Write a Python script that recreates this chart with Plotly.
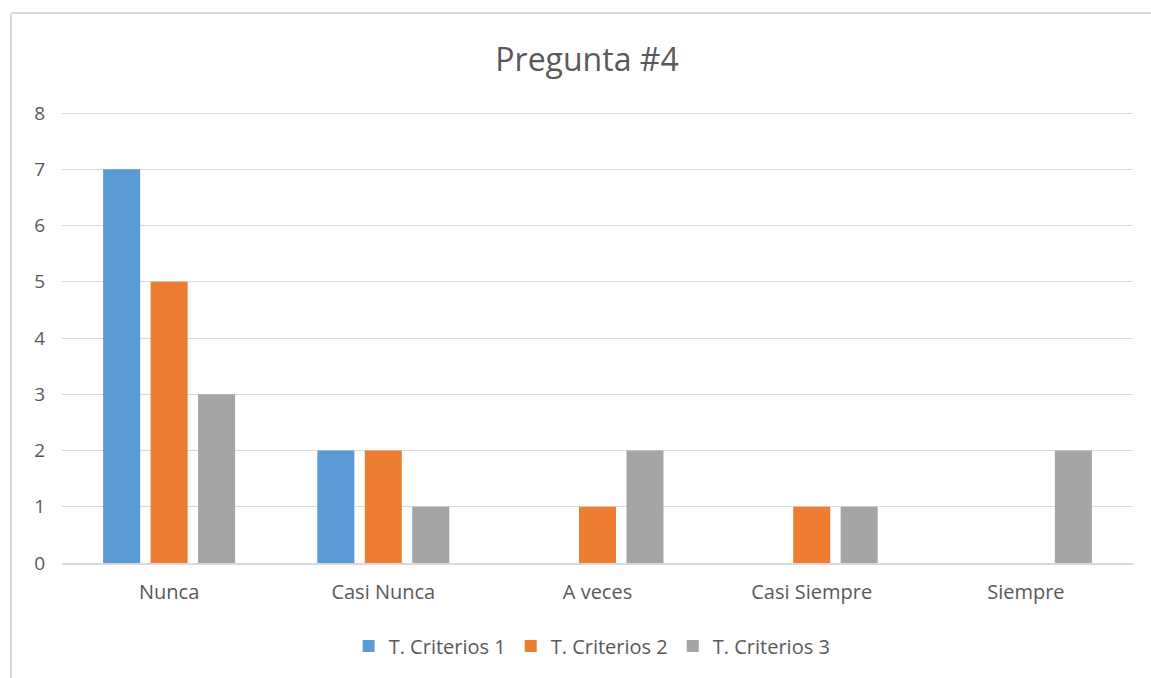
import plotly.graph_objects as go

categories = ["Nunca", "Casi Nunca", "A veces", "Casi Siempre", "Siempre"]
serie1 = [7, 2, 0, 0, 0]
serie2 = [5, 2, 1, 1, 0]
serie3 = [3, 1, 2, 1, 2]
names = ["T. Criterios 1", "T. Criterios 2", "T. Criterios 3"]
colors = ["#5B9BD5", "#ED7D31", "#A5A5A5"]

font_family = "Open Sans, Liberation Sans, sans-serif"
text_color = "#595959"

fig = go.Figure()
for name, vals, col in zip(names, [serie1, serie2, serie3], colors):
    fig.add_trace(go.Bar(x=categories, y=vals, name=name, marker=dict(color=col, line=dict(width=0))))

L, R, T, B = 62, 18, 112, 115
W, H = 1151, 678
pw = W - L - R
ph = H - T - B

bx0 = (11 - L) / pw
bx1 = (W + 40 - L) / pw
by0 = -(H + 40 - T - ph) / ph
by1 = 1 + (T - 13) / ph

fig.update_layout(
    width=W, height=H,
    margin=dict(l=L, r=R, t=T, b=B),
    paper_bgcolor="white", plot_bgcolor="white",
    barmode="group", bargap=0.335, bargroupgap=0.22,
    font=dict(family=font_family, color=text_color, size=20),
    title=dict(text="Pregunta #4", x=0.51, xanchor="center", y=1 - 60 / H, yanchor="middle",
               font=dict(size=32, color=text_color, family=font_family)),
    legend=dict(orientation="h", x=0.495, xanchor="center", y=-(646 - (T + ph)) / ph, yanchor="middle",
                font=dict(size=20, color=text_color), itemwidth=30, traceorder="normal"),
    xaxis=dict(showline=True, linecolor="#d9d9d9", linewidth=1.5, ticks="", showgrid=False,
               tickfont=dict(size=20, color=text_color), ticklabelstandoff=10),
    yaxis=dict(range=[0, 8.02], dtick=1, showgrid=True, gridcolor="#d9d9d9", gridwidth=1.2,
               zeroline=False, showline=False, ticks="", tickfont=dict(size=19, color=text_color),
               ticklabelstandoff=16),
    shapes=[
        dict(type="line", xref="paper", yref="paper", x0=bx0, x1=bx0, y0=by0, y1=by1,
             line=dict(color="#d9d9d9", width=2), layer="below"),
        dict(type="line", xref="paper", yref="paper", x0=bx0, x1=bx1, y0=by1, y1=by1,
             line=dict(color="#d9d9d9", width=2), layer="below"),
    ],
)

fig.write_html("out.html", config={"displayModeBar": False})
with open("out.html", "r", encoding="utf-8") as f:
    html = f.read()
html = html.replace("<body>", '<body style="margin:0;padding:0;overflow:hidden">', 1)
with open("out.html", "w", encoding="utf-8") as f:
    f.write(html)
